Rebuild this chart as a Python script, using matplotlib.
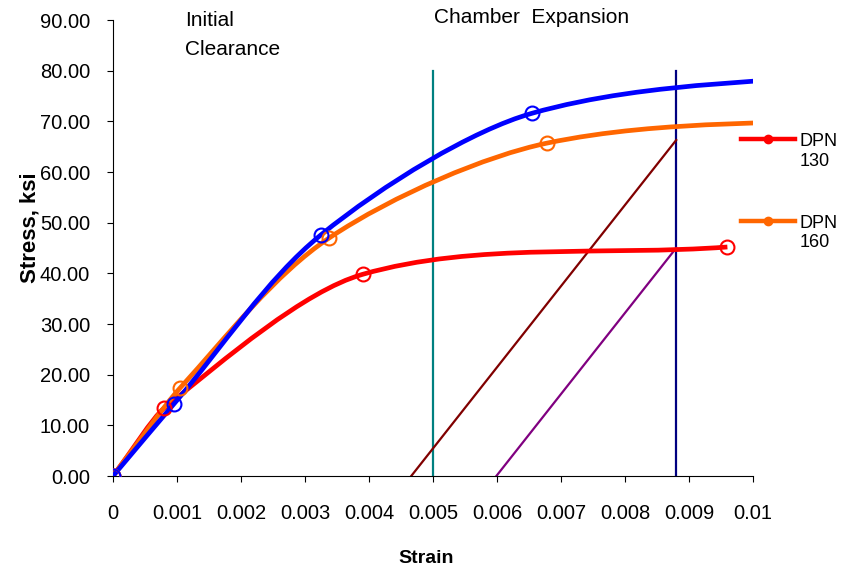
import numpy as np
import matplotlib
matplotlib.use("Agg")
import matplotlib.pyplot as plt
from matplotlib.path import Path
from matplotlib.patches import PathPatch
from matplotlib.lines import Line2D
from matplotlib.legend_handler import HandlerLine2D

plt.rcParams['font.family'] = ['Liberation Sans', 'DejaVu Sans']

# ---- data ----
dpn130_strain = [0.0, 0.0008, 0.0039, 0.0096]
dpn130_stress = [0.0, 13.4, 39.8, 45.2]

dpn160_strain = [0.0, 0.00105, 0.00338, 0.00678, 0.0125]
dpn160_stress = [0.0, 17.4, 47.0, 65.7, 71.0]

blue_strain = [0.0, 0.00095, 0.00325, 0.00655, 0.0125]
blue_stress = [0.0, 14.2, 47.6, 71.6, 80.5]

teal_x = [0.005, 0.005]
teal_y = [0.0, 80.0]
navy_x = [0.0088, 0.0088]
navy_y = [0.0, 80.0]
brown_x = [0.00466, 0.0088]
brown_y = [0.0, 66.3]
purple_x = [0.00599, 0.0088]
purple_y = [0.0, 45.0]

x_ticks = [0.0, 0.001, 0.002, 0.003, 0.004, 0.005, 0.006, 0.007, 0.008, 0.009, 0.01]
x_tick_labels = ["0", "0.001", "0.002", "0.003", "0.004", "0.005", "0.006",
                 "0.007", "0.008", "0.009", "0.01"]
y_ticks = [0, 10, 20, 30, 40, 50, 60, 70, 80, 90]
y_tick_labels = ["%.2f" % v for v in y_ticks]

W, H = 846, 567
XLIM = (0, 0.01)
YLIM = (0, 90)
AX_W_PX, AX_H_PX = 640, 456


def _weight(da, db):
    f = 2 * da / (da + db) if da + db > 0 else 1.0
    return f if f >= 1 else f * f


def smooth_path(xs, ys):
    """Excel-like smoothed line: cubic Bezier segments through the points,
    tangents weighted by neighbouring segment lengths (in screen units)."""
    sx = AX_W_PX / (XLIM[1] - XLIM[0])
    sy = AX_H_PX / (YLIM[1] - YLIM[0])
    p = np.column_stack([np.asarray(xs) * sx, np.asarray(ys) * sy]).astype(float)
    n = len(p)
    verts = [p[0]]
    codes = [Path.MOVETO]
    for i in range(n - 1):
        p0 = p[i - 1] if i > 0 else p[i]
        p1 = p[i]
        p2 = p[i + 1]
        p3 = p[i + 2] if i + 2 < n else p[i + 1]
        d01 = np.hypot(*(p1 - p0))
        d12 = np.hypot(*(p2 - p1))
        d23 = np.hypot(*(p3 - p2))
        c1 = p1 + (p2 - p0) / 6.0 * _weight(d12, d01)
        c2 = p2 - (p3 - p1) / 6.0 * _weight(d12, d23)
        verts += [c1, c2, p2]
        codes += [Path.CURVE4] * 3
    verts = np.array(verts)
    verts[:, 0] /= sx
    verts[:, 1] /= sy
    return Path(verts, codes)


fig = plt.figure(figsize=(W / 100, H / 100), dpi=100)
ax = fig.add_axes([113 / W, 1 - 476 / H, AX_W_PX / W, AX_H_PX / H])

# vertical / diagonal reference lines
ax.plot(teal_x, teal_y, color='#008080', lw=1.6, zorder=2)
ax.plot(navy_x, navy_y, color='#000080', lw=1.6, zorder=2)
ax.plot(brown_x, brown_y, color='#800000', lw=1.6, zorder=2)
ax.plot(purple_x, purple_y, color='#800080', lw=1.6, zorder=2)

series = [
    (dpn130_strain, dpn130_stress, '#FF0000'),
    (dpn160_strain, dpn160_stress, '#FF6600'),
    (blue_strain, blue_stress, '#0000FF'),
]
for xs, ys, c in series:
    patch = PathPatch(smooth_path(xs, ys), fill=False, edgecolor=c, lw=3.4,
                      capstyle='butt', joinstyle='round', zorder=3)
    ax.add_patch(patch)
    ax.plot(xs, ys, ls='none', marker='o', ms=10, mfc='none', mec=c, mew=1.5,
            zorder=4, clip_on=True)

ax.set_xlim(*XLIM)
ax.set_ylim(*YLIM)
ax.set_xticks(x_ticks)
ax.set_xticklabels(x_tick_labels)
ax.set_yticks(y_ticks)
ax.set_yticklabels(y_tick_labels)
ax.tick_params(axis='both', direction='out', length=4.5, width=0.8,
               labelsize=14.5, pad=12, colors='black')
ax.tick_params(axis='x', pad=16)
for s in ('top', 'right'):
    ax.spines[s].set_visible(False)
for s in ('left', 'bottom'):
    ax.spines[s].set_linewidth(0.8)

fig.text(426 / W, 1 - 563 / H, "Strain", fontsize=14, fontweight='bold',
         ha='center', va='baseline')
fig.text(30 / W, 1 - 228 / H, "Stress, ksi", fontsize=16, fontweight='bold',
         ha='center', va='center', rotation=90)

fig.text(185 / W, 1 - 26 / H, "Initial", fontsize=15, va='baseline')
fig.text(185 / W, 1 - 55 / H, "Clearance", fontsize=15, va='baseline')
fig.text(434 / W, 1 - 23 / H, "Chamber  Expansion", fontsize=15, va='baseline')


class UpHandler(HandlerLine2D):
    def __init__(self, shift, **kw):
        super().__init__(**kw)
        self.shift = shift

    def create_artists(self, legend, orig_handle, xdescent, ydescent, width,
                       height, fontsize, trans):
        arts = super().create_artists(legend, orig_handle, xdescent, ydescent,
                                      width, height, fontsize, trans)
        for a in arts:
            a.set_ydata(np.asarray(a.get_ydata(), dtype=float) + self.shift)
        return arts


h130 = Line2D([], [], color='#FF0000', lw=3.2, marker='o', ms=6,
              mfc='#FF0000', mec='#FF0000')
h160 = Line2D([], [], color='#FF6600', lw=3.2, marker='o', ms=6,
              mfc='#FF6600', mec='#FF6600')
leg = fig.legend([h130, h160], ["DPN\n130", "DPN\n160"],
                 loc='upper left', bbox_to_anchor=(741 / W, 1 - 133 / H),
                 frameon=False, fontsize=13, handlelength=3.0,
                 handletextpad=0.25, labelspacing=2.5, borderpad=0,
                 borderaxespad=0,
                 handler_map={h130: UpHandler(9.0, numpoints=1),
                              h160: UpHandler(9.0, numpoints=1)})

fig.savefig("out.png", dpi=100)
